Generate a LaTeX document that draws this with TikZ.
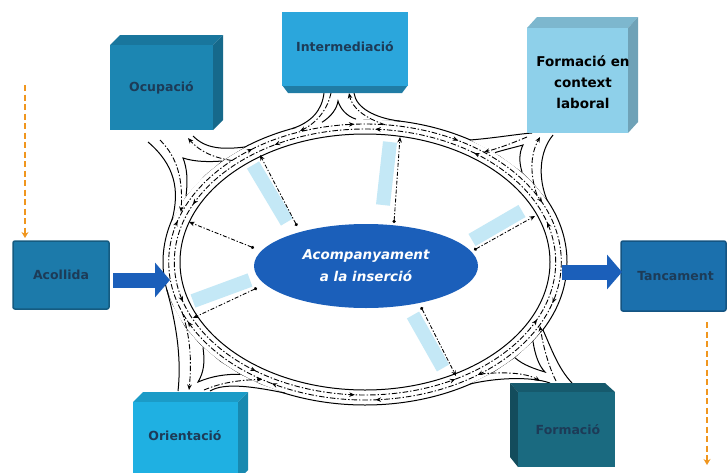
\documentclass[tikz,border=0pt]{standalone}
\usepackage{fontspec}
\setmainfont{DejaVu Sans}
\usetikzlibrary{arrows.meta,decorations.markings,shapes.geometric}
\definecolor{ocupc}{HTML}{1C86B2}
\definecolor{interc}{HTML}{2BA6DC}
\definecolor{fcontc}{HTML}{8ED0EA}
\definecolor{acolc}{HTML}{1C7AAA}
\definecolor{tancc}{HTML}{1B70AD}
\definecolor{orientc}{HTML}{1FB0E2}
\definecolor{formc}{HTML}{1A6A80}
\definecolor{centc}{HTML}{1B5FBA}
\definecolor{orangec}{HTML}{F0961E}
\definecolor{barblue}{HTML}{C4E8F6}
\definecolor{lbltext}{HTML}{1D3B57}
\newcommand{\cubeup}[7]{%
  \fill[#7!88!black] (#1,#2) -- ({#1+#5},{#2-#6}) -- ({#3+#5},{#2-#6}) -- (#3,#2) -- cycle;
  \fill[#7!78!black] (#3,#2) -- ({#3+#5},{#2-#6}) -- ({#3+#5},{#4-#6}) -- (#3,#4) -- cycle;
  \fill[#7] (#1,#2) rectangle (#3,#4);
}
\begin{document}
\begin{tikzpicture}[x=1pt,y=-1pt,
  road/.style={line width=1pt, black},
  lane/.style={line width=0.9pt, dash pattern=on 5.5pt off 2pt on 1.4pt off 2pt},
  lanearrow/.style={lane, -{Stealth[length=5.5pt,width=4.5pt]}},
  spoke/.style={line width=0.85pt, dash pattern=on 4pt off 1.8pt on 1.3pt off 1.8pt, {Circle[length=3.2pt]}-{Stealth[length=5.5pt,width=4.5pt]}},
  bar/.style={line width=14pt, barblue},
  lbl/.style={font=\bfseries\fontsize{12.5}{15}\selectfont, text=lbltext, inner sep=0pt},
  lblblack/.style={font=\bfseries\fontsize{13.5}{21}\selectfont, text=black, inner sep=0pt, align=center},
  flatbox/.style={rounded corners=2pt, line width=1.5pt},
  orangearrow/.style={orangec, line width=1.9pt, dash pattern=on 6pt off 3.5pt, -{Stealth[length=6pt,width=7pt]}},
  bigarrow/.style={centc, line width=15pt, -{Triangle[length=15pt,width=34pt]}},
  ringarrows/.style={postaction={decorate}, decoration={markings,
     mark=at position 0.04 with {\arrow{Stealth[length=5.5pt,width=4.5pt]}},
     mark=at position 0.14 with {\arrow{Stealth[length=5.5pt,width=4.5pt]}},
     mark=at position 0.24 with {\arrow{Stealth[length=5.5pt,width=4.5pt]}},
     mark=at position 0.34 with {\arrow{Stealth[length=5.5pt,width=4.5pt]}},
     mark=at position 0.44 with {\arrow{Stealth[length=5.5pt,width=4.5pt]}},
     mark=at position 0.54 with {\arrow{Stealth[length=5.5pt,width=4.5pt]}},
     mark=at position 0.64 with {\arrow{Stealth[length=5.5pt,width=4.5pt]}},
     mark=at position 0.74 with {\arrow{Stealth[length=5.5pt,width=4.5pt]}},
     mark=at position 0.84 with {\arrow{Stealth[length=5.5pt,width=4.5pt]}},
     mark=at position 0.94 with {\arrow{Stealth[length=5.5pt,width=4.5pt]}}}}
  ]
\useasboundingbox (0,0) rectangle (728,472);
\fill[white] (0,0) rectangle (728,472);

% light blue bars
\draw[bar] (253,165) -- (287,222);
\draw[bar] (390,142) -- (383,205);
\draw[bar] (522,211) -- (472,240);
\draw[bar] (193,301) -- (250,280);
\draw[bar] (413,315) -- (443,368);

% central ellipse
\node[ellipse, fill=centc, minimum width=224pt, minimum height=84pt, inner sep=0pt,
      text=white, align=center, font=\bfseries\itshape\fontsize{13.5}{22}\selectfont]
  (center) at (366,266) {Acompanyament\\a la inserció};

% spokes
\coordinate (e1) at (297,226); \coordinate (r1) at (260,155);
\coordinate (e2) at (394,223); \coordinate (r2) at (400,137);
\coordinate (e3) at (474,250); \coordinate (r3) at (535,216);
\coordinate (e4) at (254,248); \coordinate (r4) at (189,222);
\coordinate (e5) at (257,288); \coordinate (r5) at (193,318);
\coordinate (e6) at (421,307); \coordinate (r6) at (456,376);
\draw[spoke] (e1) -- (r1);
\draw[spoke] (e2) -- (r2);
\draw[spoke] (e3) -- (r3);
\draw[spoke] (e4) -- (r4);
\draw[spoke] (e5) -- (r5);
\draw[spoke] (e6) -- (r6);

% outer ring line
\draw[road] (365,262) ellipse [x radius=202, y radius=143];
% branch mouths (erase outer line)
\fill[white] (292,128.7) .. controls (312,122) and (322,110) .. (324,93) -- (354,93) .. controls (356,108) and (375,118) .. (400,121.2) -- (365,119.5) -- cycle;
\fill[white] (172,220) .. controls (180,190) and (175,165) .. (148,142) -- (193,136) .. controls (205,148) and (220,150) .. (245,147) -- (222,161) -- (205,175) -- (186,196) -- cycle;
\fill[white] (470,140) .. controls (495,138) and (518,134) .. (532,133) -- (553,135) .. controls (539,152) and (538,178) .. (547,200) -- (535,185) -- (522,172) -- (500,156) -- cycle;
\fill[white] (167,290) .. controls (175,320) and (182,355) .. (178,391) -- (210,391) .. controls (225,382) and (255,387) .. (285,393) -- (260,384) -- (240,374.3) -- (220,361.5) -- (200,344.5) -- (185,327) -- (172,304) -- cycle;
\fill[white] (470,384) .. controls (495,378) and (530,376) .. (550,383) -- (572,383) .. controls (558,368) and (552,350) .. (543,330) -- (533,341.4) -- (515,357.8) -- (495,371.4) -- cycle;

% inner ring line
\draw[road] (365,262) ellipse [x radius=185, y radius=128];
% ring lanes
\draw[lane, ringarrows] (561.3,262) arc[start angle=0, end angle=360, x radius=196.3, y radius=138];
\draw[lane, ringarrows] (555.7,262) arc[start angle=0, end angle=-360, x radius=190.7, y radius=133];

% branch: Intermediacio
\draw[road] (292,128.7) .. controls (312,122) and (322,110) .. (324,93);
\draw[road] (400,121.2) .. controls (375,118) and (356,108) .. (354,93);
\draw[road] (322,122.3) .. controls (332,116) and (337,108) .. (338,101) .. controls (340,108) and (346,116) .. (356,119.1);
\draw[lanearrow] (331,93) .. controls (328,108) and (318,122) .. (300,131);
\draw[lanearrow] (385,124.7) .. controls (365,118) and (352,108) .. (349,93);

% branch: Ocupacio
\draw[road] (172,220) .. controls (180,190) and (175,165) .. (148,142);
\draw[road] (245,147) .. controls (220,150) and (205,148) .. (193,136);
\draw[road] (186,196) .. controls (188,180) and (187,168) .. (183,158) .. controls (195,162) and (210,162) .. (222,161);
\draw[lanearrow] (160,140) .. controls (178,158) and (183,180) .. (181,212);
\draw[lanearrow] (232,160.5) .. controls (215,158) and (200,152) .. (188,138);

% branch: Formacio en context laboral
\draw[road] (470,140) .. controls (495,138) and (518,134) .. (532,133);
\draw[road] (547,200) .. controls (538,178) and (539,152) .. (553,135);
\draw[road] (495,152.6) .. controls (507,149) and (516,147) .. (523,145) .. controls (519,153) and (519,162) .. (522,172);
\draw[lanearrow] (527,137) .. controls (515,142) and (500,148) .. (484,152);
\draw[lanearrow] (537,195) .. controls (530,175) and (530,155) .. (540,137);

% branch: Orientacio
\draw[road] (167,290) .. controls (175,320) and (182,355) .. (178,391);
\draw[road] (285,393) .. controls (255,387) and (225,382) .. (210,391);
\draw[road] (203,347.4) .. controls (205,362) and (204,372) .. (198,382) .. controls (212,376) and (226,374) .. (240,374.3);
\draw[lanearrow] (182,312) .. controls (190,335) and (192,360) .. (189,390);
\draw[lanearrow] (204,390) .. controls (218,384) and (235,380) .. (262,379.5);

% branch: Formacio
\draw[road] (470,384) .. controls (495,378) and (530,376) .. (550,383);
\draw[road] (543,330) .. controls (552,350) and (558,368) .. (572,383);
\draw[road] (533,341.4) .. controls (535,355) and (539,366) .. (545,372) .. controls (535,369) and (523,365) .. (515,357.8);
\draw[lanearrow] (480,374) .. controls (500,372) and (525,372) .. (540,381);
\draw[lanearrow] (556,381) .. controls (548,365) and (543,345) .. (540,326);

% boxes
\cubeup{110}{45}{213}{130}{10}{10}{ocupc}
\node[lbl] (ocup) at (161.5,88) {Ocupació};

\fill[interc!75!black] (282,85) -- (408,85) -- (402,93) -- (288,93) -- cycle;
\fill[interc] (282,12) rectangle (408,86);
\node[lbl] (inter) at (345,47) {Intermediació};

\cubeup{527}{28}{628}{133}{10}{11}{fcontc}
\node[lblblack] (fcont) at (583,82) {Formació en\\context\\laboral};

\cubeup{133}{402}{238}{480}{10}{10}{orientc}
\node[lbl] (orient) at (185,436) {Orientació};

\fill[formc!85!black] (510,383) -- (605,383) -- (615,392) -- (518,392) -- cycle;
\fill[formc!72!black] (510,383) -- (518,392) -- (518,467) -- (510,457) -- cycle;
\fill[formc] (518,392) rectangle (615,467);
\node[lbl] (form) at (568,430) {Formació};

\node[flatbox, fill=acolc, draw=acolc!75!black, minimum width=96pt, minimum height=68pt] (acolbox) at (61,275) {};
\node[lbl] (acol) at (acolbox.center) {Acollida};

\node[flatbox, fill=tancc, draw=tancc!75!black, minimum width=105pt, minimum height=70pt] (tancbox) at (673.5,276) {};
\node[lbl] (tanc) at ([xshift=2pt]tancbox.center) {Tancament};

% big arrows
\coordinate (ba1s) at (113,280); \coordinate (ba1e) at (170,280);
\coordinate (ba2s) at (562,272); \coordinate (ba2e) at (622,272);
\draw[bigarrow] (ba1s) -- (ba1e);
\draw[bigarrow] (ba2s) -- (ba2e);

% orange dashed arrows
\coordinate (o1s) at (25,85); \coordinate (o1e) at (25,238);
\coordinate (o2s) at (707,322); \coordinate (o2e) at (707,465);
\draw[orangearrow] (o1s) -- (o1e);
\draw[orangearrow] (o2s) -- (o2e);
\end{tikzpicture}
\end{document}
